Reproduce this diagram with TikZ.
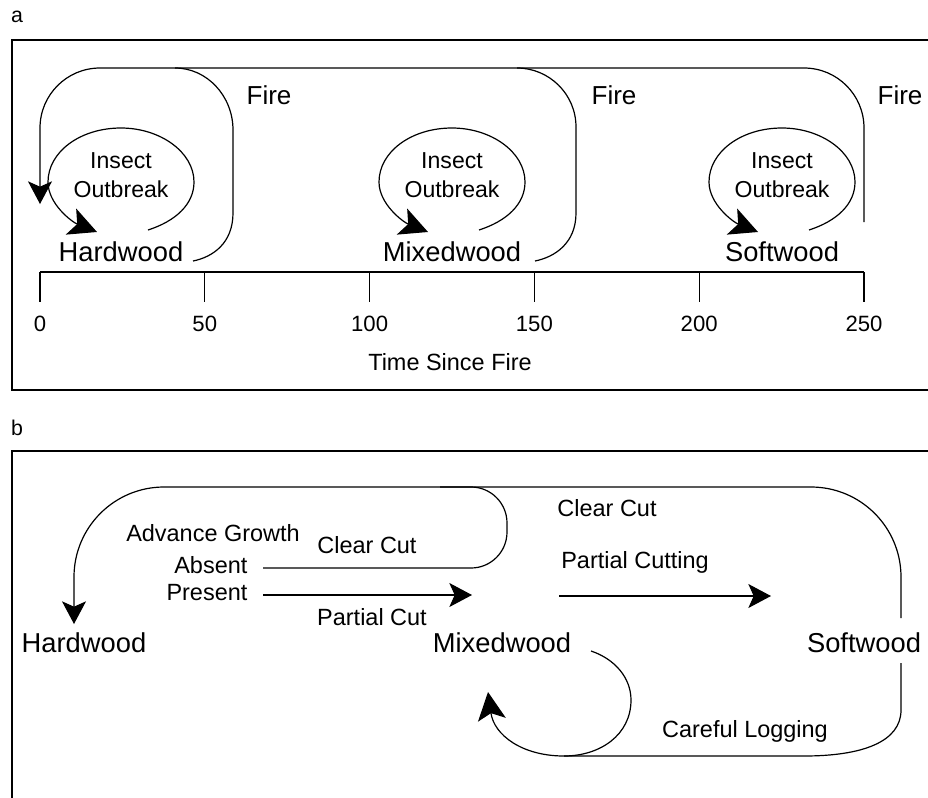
\documentclass[tikz,border=0pt]{standalone}
\usepackage{fontspec}
\setmainfont{Liberation Sans}
\usetikzlibrary{arrows.meta}

\tikzset{
  line/.style={line width=0.9pt},
  frame/.style={line width=1.3pt},
  tip/.style={-{Stealth[length=17pt,width=18pt,inset=4pt]}},
  bigtip/.style={-{Stealth[length=21pt,width=21pt,inset=5pt]}},
  stage/.style={font=\fontsize{20.5}{24}\selectfont, inner sep=1pt},
  lbl/.style={font=\fontsize{17.6}{21.5}\selectfont, inner sep=1pt, align=center},
}

\begin{document}
\begin{tikzpicture}[x=0.75pt, y=-0.75pt]
    \useasboundingbox (0,0) rectangle (928,797);

    % Panel a: frame and label
    \node[lbl, font=\fontsize{16}{19}\selectfont] (la) at (17,17) {a};
    \draw[frame] (928,40) -- (12,40) -- (12,390) -- (928,390);

    % Time axis
    \draw[line] (40,272) -- (864,272);
    \foreach \i in {0,...,5} {
        \pgfmathtruncatemacro{\yr}{50*\i}
        \draw[line] (40+164.8*\i,272) -- (40+164.8*\i,302);
        \node[font=\fontsize{16.6}{20}\selectfont] (t\i) at (40+164.8*\i,324) {\yr};
    }
    \node[lbl] (time) at (450,362) {Time Since Fire};

    % Stages and insect loops
    \foreach \dx/\name/\txt in {0/hw/Hardwood, 331/mw/Mixedwood, 661/sw/Softwood} {
        \begin{scope}[shift={(\dx,0)}]
            \node[stage] (\name) at (121,252) {\txt};
            \node[lbl, font=\fontsize{17.3}{21.5}\selectfont] (ins\name) at (121,175) {Insect\\Outbreak};
            \draw[line, bigtip] (148,230) .. controls (176,221) and (194,204) .. (194,182)
                .. controls (194,152) and (160,128) .. (121,128)
                .. controls (80,128) and (48,152) .. (48,182)
                .. controls (48,204) and (72,222) .. (97,232);
        \end{scope}
    }

    % Fire
    \draw[line, tip, rounded corners=45pt] (864,222) -- (864,68) -- (40,68) -- (40,204);
    \draw[line] (175,68) .. controls (207,68) and (233,96) .. (233,130) -- (233,213)
        .. controls (233,243) and (213,257) .. (193,261);
    \draw[line] (517,68) .. controls (549,68) and (576,94) .. (576,127) -- (576,213)
        .. controls (576,243) and (555,257) .. (535,261);
    \node[stage, font=\fontsize{19.5}{23}\selectfont] (f1) at (269,95) {Fire};
    \node[stage, font=\fontsize{19.5}{23}\selectfont] (f2) at (614,95) {Fire};
    \node[stage, font=\fontsize{19.5}{23}\selectfont] (f3) at (900,95) {Fire};

    % Panel b: frame and label
    \node[lbl, font=\fontsize{16}{19}\selectfont] (lb) at (17,428) {b};
    \draw[frame] (928,451) -- (12,451) -- (12,800);

    \node[stage] (HW) at (84,643) {Hardwood};
    \node[stage] (MW) at (502,643) {Mixedwood};
    \node[stage] (SW) at (864,643) {Softwood};

    \node[lbl] (adv) at (213,533) {Advance Growth};
    \node[lbl, anchor=east] (abs) at (249,565) {Absent};
    \node[lbl, anchor=east] (pres) at (249,593) {Present};
    \node[lbl] (cc1) at (367,545) {Clear Cut};
    \node[lbl] (pc1) at (372,617) {Partial Cut};
    \node[lbl] (cc2) at (607,508) {Clear Cut};
    \node[lbl] (pc2) at (635,562) {Partial Cutting};
    \node[lbl] (clog) at (745,731) {Careful Logging};

    % Clear cut back to hardwood
    \draw[line, tip, rounded corners=67.5pt] (901,618) -- (901,487) -- (74,487) -- (74,624);
    \draw[line, rounded corners=27pt] (263,568) -- (507,568) -- (507,487) -- (440,487);

    % Partial cuts
    \draw[line, tip] (263,595) -- (472,595);
    \draw[line, tip] (559,596) -- (771,596);

    % Careful logging
    \draw[line] (901,663) -- (901,710) .. controls (901,742) and (862,756) .. (804,756) -- (564,756);
    \draw[line, bigtip] (591,651) .. controls (615,659) and (631,678) .. (631,700)
        .. controls (631,735) and (600,756) .. (564,756)
        .. controls (522,756) and (494,735) .. (488,692);
\end{tikzpicture}
\end{document}
